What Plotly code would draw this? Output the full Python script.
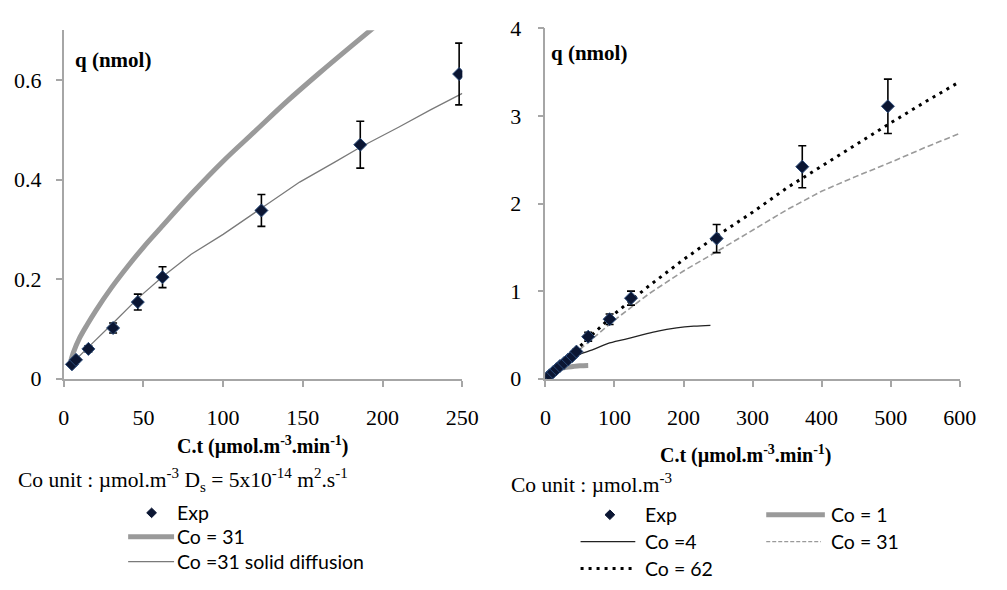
import plotly.graph_objects as go

W, H = 1007, 590

# ---- left panel: Co = 31 ----
left_exp_x = [5.2, 7.75, 15.5, 31, 46.5, 62, 124, 186, 248]
left_exp_y = [0.029, 0.038, 0.060, 0.102, 0.154, 0.204, 0.338, 0.470, 0.612]
left_exp_err = [0.003, 0.004, 0.006, 0.010, 0.016, 0.021, 0.032, 0.047, 0.062]

left_co31_x = [4, 6, 10, 15, 20, 30, 40, 50, 60, 80, 100, 120, 140, 160, 180, 200]
left_co31_y = [0.030, 0.052, 0.082, 0.110, 0.136, 0.183, 0.225, 0.264, 0.300, 0.371,
               0.437, 0.497, 0.557, 0.613, 0.667, 0.720]

left_solid_x = [5, 10, 16, 32, 47, 62, 80, 100, 124, 148, 170, 186, 210, 230, 250]
left_solid_y = [0.030, 0.045, 0.065, 0.115, 0.163, 0.205, 0.250, 0.290, 0.342, 0.395,
                0.435, 0.465, 0.505, 0.540, 0.573]

# ---- right panel: several Co ----
right_exp_x = [2, 6, 11, 16, 21, 27, 33, 39, 45, 62, 93, 124, 248, 372, 496]
right_exp_y = [0.01, 0.04, 0.075, 0.11, 0.145, 0.18, 0.22, 0.26, 0.31, 0.48, 0.68,
               0.92, 1.60, 2.42, 3.11]
right_exp_err = [0.001, 0.004, 0.008, 0.011, 0.015, 0.018, 0.022, 0.026, 0.03, 0.05,
                 0.06, 0.08, 0.16, 0.24, 0.31]

co1_x = [0, 5, 10, 20, 30, 40, 50, 62]
co1_y = [0, 0.04, 0.07, 0.11, 0.13, 0.14, 0.148, 0.152]

co4_x = [0, 10, 20, 30, 40, 50, 68, 90, 115, 140, 163, 190, 215, 239]
co4_y = [0, 0.07, 0.13, 0.19, 0.24, 0.28, 0.33, 0.40, 0.45, 0.50, 0.545, 0.58, 0.60, 0.61]

co31_x = [0, 50, 100, 150, 200, 250, 300, 350, 400, 450, 500, 550, 600]
co31_y = [0, 0.33, 0.67, 0.97, 1.23, 1.46, 1.70, 1.93, 2.14, 2.31, 2.47, 2.64, 2.80]

co62_x = [0, 50, 100, 150, 200, 250, 300, 350, 400, 450, 500, 550, 600]
co62_y = [0, 0.37, 0.74, 1.06, 1.36, 1.64, 1.90, 2.18, 2.43, 2.68, 2.92, 3.16, 3.39]

x_ticks_left = [0, 50, 100, 150, 200, 250]
y_ticks_left = [0, 0.2, 0.4, 0.6]
y_ticks_left_text = ["0", "0.2", "0.4", "0.6"]
x_ticks_right = [0, 100, 200, 300, 400, 500, 600]
y_ticks_right = [0, 1, 2, 3, 4]

SERIF = "Liberation Serif, Times New Roman, serif"
SANS = "Lato, sans-serif"
MARK = "#0b1633"
GRAY_THICK = "#9a9a9a"
GRAY_THIN = "#7a7a7a"


def px(x, y):
    return x / W, 1 - y / H


fig = go.Figure()

# left panel traces
fig.add_trace(go.Scatter(x=left_co31_x, y=left_co31_y, mode="lines",
                         line=dict(color=GRAY_THICK, width=5, shape="spline"),
                         xaxis="x", yaxis="y"))
fig.add_trace(go.Scatter(x=left_solid_x, y=left_solid_y, mode="lines",
                         line=dict(color=GRAY_THIN, width=1.3), xaxis="x", yaxis="y"))
fig.add_trace(go.Scatter(x=left_exp_x, y=left_exp_y, mode="markers",
                         marker=dict(symbol="diamond", size=10, color=MARK,
                                     line=dict(color="#2a4a78", width=1)),
                         error_y=dict(type="data", array=left_exp_err, color="black",
                                      thickness=1.6, width=4),
                         xaxis="x", yaxis="y"))

# right panel traces
fig.add_trace(go.Scatter(x=co1_x, y=co1_y, mode="lines",
                         line=dict(color=GRAY_THICK, width=5, shape="spline"),
                         xaxis="x2", yaxis="y2"))
fig.add_trace(go.Scatter(x=co4_x, y=co4_y, mode="lines",
                         line=dict(color="#222222", width=1.3, shape="spline"),
                         xaxis="x2", yaxis="y2"))
fig.add_trace(go.Scatter(x=co31_x, y=co31_y, mode="lines",
                         line=dict(color=GRAY_THICK, width=1.6, dash="6px,3px"),
                         xaxis="x2", yaxis="y2"))
fig.add_trace(go.Scatter(x=co62_x, y=co62_y, mode="lines",
                         line=dict(color="black", width=3, dash="3px,5px"),
                         xaxis="x2", yaxis="y2"))
fig.add_trace(go.Scatter(x=right_exp_x, y=right_exp_y, mode="markers",
                         marker=dict(symbol="diamond", size=10, color=MARK,
                                     line=dict(color="#2a4a78", width=1)),
                         error_y=dict(type="data", array=right_exp_err, color="black",
                                      thickness=1.6, width=4),
                         xaxis="x2", yaxis="y2"))

axis_common = dict(showline=True, linecolor="#a6a6a6", linewidth=1.5, showgrid=False,
                   zeroline=False, ticks="outside", tickcolor="#a6a6a6", ticklen=6,
                   tickwidth=1.5, tickfont=dict(family=SERIF, size=22, color="black"))

fig.update_layout(
    width=W, height=H, margin=dict(l=0, r=0, t=0, b=0),
    font=dict(family=SERIF, size=18, color="black"),
    paper_bgcolor="white", plot_bgcolor="white", showlegend=False,
    xaxis=dict(domain=[59 / W, 467 / W], range=[0, 250], tickvals=x_ticks_left,
               anchor="y", ticklabelstandoff=12, **axis_common),
    yaxis=dict(domain=[1 - 383 / H, 1 - 19 / H], range=[0, 0.7], tickvals=y_ticks_left,
               ticktext=y_ticks_left_text, anchor="x", ticklabelstandoff=10, **axis_common),
    xaxis2=dict(domain=[552 / W, 976 / W], range=[0, 600], tickvals=x_ticks_right,
                anchor="y2", ticklabelstandoff=12, **axis_common),
    yaxis2=dict(domain=[1 - 383 / H, 1 - 17 / H], range=[0, 4], tickvals=y_ticks_right,
                anchor="x2", ticklabelstandoff=12, **axis_common),
)

annotations = []


def text(x, y, s, size, family=SERIF, anchor="left"):
    ax, ay = px(x, y)
    annotations.append(dict(x=ax, y=ay, xref="paper", yref="paper", text=s,
                            showarrow=False, xanchor=anchor, yanchor="middle",
                            font=dict(family=family, size=size, color="black")))


# panel titles, axis titles and notes
text(109, 50, "<b>q (nmol)</b>", 21, anchor="center")
text(597, 43, "<b>q (nmol)</b>", 21, anchor="center")
text(263, 453, "<b>C.t (µmol.m<sup>-3</sup>.min<sup>-1</sup>)</b>", 20, anchor="center")
text(757, 462, "<b>C.t (µmol.m<sup>-3</sup>.min<sup>-1</sup>)</b>", 20, anchor="center")
text(10, 489, "Co unit : µmol.m<sup>-3</sup> D<sub>s</sub> = 5x10<sup>-14</sup> m<sup>2</sup>.s<sup>-1</sup>", 21.5)
text(515, 492, "Co unit : µmol.m<sup>-3</sup>", 21.5)

# legend labels
text(173, 523, "Exp", 19.5, SANS)
text(173, 548, "Co = 31", 19.5, SANS)
text(173, 574, "Co =31 solid diffusion", 19.5, SANS)
text(652, 525, "Exp", 19.5, SANS)
text(842, 525, "Co = 1", 19.5, SANS)
text(652, 553, "Co =4", 19.5, SANS)
text(842, 553, "Co = 31", 19.5, SANS)
text(652, 581, "Co = 62", 19.5, SANS)

shapes = []


def key_line(x0, x1, y, color, width, dash="solid"):
    a0, b = px(x0, y)
    a1, _ = px(x1, y)
    shapes.append(dict(type="line", xref="paper", yref="paper", x0=a0, x1=a1, y0=b, y1=b,
                       line=dict(color=color, width=width, dash=dash)))


def key_diamond(x, y, r=5):
    pts = [px(x, y - r), px(x + r, y), px(x, y + r), px(x - r, y)]
    path = "M " + " L ".join(f"{a},{b}" for a, b in pts) + " Z"
    shapes.append(dict(type="path", xref="paper", yref="paper", path=path,
                       fillcolor=MARK, line=dict(color=MARK, width=1)))


key_diamond(149, 523)
key_line(125, 172, 548, GRAY_THICK, 5)
key_line(125, 172, 574, GRAY_THIN, 1.3)
key_diamond(618, 525)
key_line(778, 838, 525, GRAY_THICK, 5)
key_line(588, 644, 553, "#222222", 1.3)
key_line(778, 834, 553, GRAY_THICK, 1.3, "4px,2px")
key_line(588, 644, 581, "black", 3, "3px,5px")

fig.update_layout(annotations=annotations, shapes=shapes)

fig.write_html("out.html")
